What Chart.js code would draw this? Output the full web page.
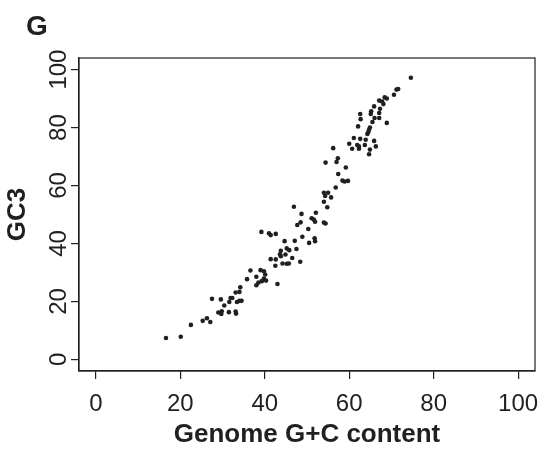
<!DOCTYPE html>
<html>
<head>
<meta charset="utf-8">
<script src="https://cdn.jsdelivr.net/npm/chart.js@4.4.0/dist/chart.umd.min.js"></script>
<style>
  body { margin: 0; background: #fff; }
  #wrap { width: 550px; height: 450px; }
</style>
</head>
<body>
<div id="wrap"><canvas id="gc3-chart" width="550" height="450"></canvas></div>
<script>
'use strict';

// genome G+C content (%) per genome
var gcContent = [
  16.6, 20.1, 22.5, 25.3, 26.3, 27.1, 27.5, 29.0, 29.7, 29.8, 29.6, 30.4,
  31.5, 31.6, 31.9, 32.3, 33.1, 33.2, 33.4, 34.0, 34.5, 33.1, 34.0, 34.2,
  35.8, 36.6, 38.0, 38.0, 38.5, 39.3, 39.8, 40.1, 39.8, 39.0, 40.3, 43.0,
  41.4, 42.6, 42.5, 44.2, 45.2, 45.7, 46.5, 48.4, 43.8, 44.9, 43.8, 43.6,
  45.2, 45.8, 47.5,
  39.2, 41.0, 41.4, 42.6, 44.7, 47.1, 48.9, 50.5, 51.8, 51.9, 47.7, 48.5,
  50.3, 51.1, 51.6, 51.9, 54.0, 54.4, 46.9, 48.7, 52.1, 54.0, 54.8,
  54.0, 55.0, 54.3, 55.7, 56.8, 58.4, 58.9, 59.7, 57.4, 59.2, 54.4, 57.0,
  57.3, 56.2,
  60.0, 60.7, 61.1, 61.9, 62.3, 62.3, 62.6, 63.7, 63.9, 64.9, 64.7, 65.9,
  66.3, 64.3, 64.5, 64.7, 64.9, 62.1, 65.5, 62.7, 66.0, 67.1, 68.9, 62.6,
  65.1, 65.2, 67.1, 67.3, 65.9, 68.1, 67.1, 67.8, 68.4, 68.9, 70.6, 71.2,
  71.6, 74.6
];
// GC content at third codon position (%)
var gc3 = [
  7.4, 7.8, 11.9, 13.3, 14.2, 12.9, 20.9, 16.2, 15.7, 16.6, 20.7, 18.6,
  16.3, 19.8, 21.2, 21.2, 16.5, 15.8, 19.8, 20.2, 20.2, 23.1, 23.3, 24.9,
  27.7, 30.7, 28.5, 25.6, 26.5, 27.0, 27.9, 29.3, 30.4, 30.8, 27.2, 26.0,
  34.6, 34.5, 32.3, 33.1, 33.0, 33.1, 35.0, 33.7, 35.6, 36.2, 37.5, 36.3,
  38.3, 37.7, 38.1,
  44.0, 43.5, 42.9, 43.3, 40.8, 40.9, 42.3, 40.2, 41.8, 40.8, 46.4, 47.3,
  45.0, 48.7, 48.3, 47.5, 47.2, 46.9, 52.7, 50.2, 50.6, 54.4, 52.5,
  57.5, 57.5, 56.4, 55.9, 59.3, 61.7, 61.4, 61.6, 64.0, 66.2, 67.9, 68.1,
  69.4, 72.9,
  74.4, 72.7, 76.4, 74.0, 73.5, 72.7, 76.1, 74.0, 75.8, 72.4, 70.8, 75.4,
  73.5, 77.8, 78.4, 79.2, 80.0, 80.4, 81.9, 82.9, 83.3, 83.3, 81.6, 84.7,
  84.7, 85.6, 85.0, 86.5, 87.3, 88.1, 89.3, 89.0, 90.4, 90.0, 91.3, 93.1,
  93.3, 97.2
];

var xTicks = [0, 20, 40, 60, 80, 100];
var yTicks = [0, 20, 40, 60, 80, 100];
var panelLabel = 'G';
var xTitle = 'Genome G+C content';
var yTitle = 'GC3';

var ink = '#231f20';
var fontFamily = '"Liberation Sans", Arial, sans-serif';

let GcChart = function(){

    var _points = function(){
        var pts = [];
        for (var i = 0; i < gcContent.length; i++) {
            pts.push({x: gcContent[i], y: gc3[i]});
        }
        return pts;
    };

    // full box round the plot + panel letter
    var framePlugin = {
        id: 'frame',
        afterDraw: function(chart){
            var ctx = chart.ctx, a = chart.chartArea;
            ctx.save();
            ctx.strokeStyle = ink;
            ctx.lineWidth = 1.2;
            ctx.strokeRect(a.left, a.top, a.right - a.left, a.bottom - a.top);
            ctx.fillStyle = ink;
            ctx.font = 'bold 28px ' + fontFamily;
            ctx.textAlign = 'left';
            ctx.textBaseline = 'alphabetic';
            ctx.fillText(panelLabel, 26, 35);
            ctx.restore();
        }
    };

    var _draw = function(){
        var ctx = document.getElementById('gc3-chart').getContext('2d');
        var config = {
            type: 'scatter',
            data: {
                datasets: [{
                    label: yTitle,
                    data: _points(),
                    backgroundColor: ink,
                    borderWidth: 0,
                    pointRadius: 2.3,
                    pointHoverRadius: 2.3
                }]
            },
            options: {
                responsive: false,
                animation: false,
                events: [],
                layout: { padding: { top: 58, right: 15, bottom: 0, left: 0 } },
                plugins: {
                    legend: { display: false },
                    tooltip: { enabled: false }
                },
                scales: {
                    x: {
                        type: 'linear',
                        min: -4,
                        max: 104,
                        afterBuildTicks: function(s){ s.ticks = xTicks.map(function(v){ return {value: v}; }); },
                        afterFit: function(s){ s.height = 79; },
                        grid: { drawOnChartArea: false, drawTicks: true, tickLength: 8, color: ink, lineWidth: 1.2 },
                        border: { display: true, color: ink, width: 1.2 },
                        ticks: { color: ink, padding: 11, maxRotation: 0, font: { family: fontFamily, size: 24 } },
                        title: { display: true, text: xTitle, color: ink, padding: { top: 0, bottom: 0 },
                                 font: { family: fontFamily, size: 26, weight: 'bold' } }
                    },
                    y: {
                        type: 'linear',
                        min: -4,
                        max: 104,
                        afterBuildTicks: function(s){ s.ticks = yTicks.map(function(v){ return {value: v}; }); },
                        afterFit: function(s){ s.width = 79; },
                        grid: { drawOnChartArea: false, drawTicks: true, tickLength: 8, color: ink, lineWidth: 1.2 },
                        border: { display: true, color: ink, width: 1.2 },
                        ticks: { color: ink, padding: -8, minRotation: 90, maxRotation: 90, crossAlign: 'center',
                                 font: { family: fontFamily, size: 24 } },
                        title: { display: true, text: yTitle, color: ink, padding: { top: 2, bottom: 0 },
                                 font: { family: fontFamily, size: 26, weight: 'bold' } }
                    }
                }
            },
            plugins: [framePlugin]
        };
        window.gc3_chart = new Chart(ctx, config);
    };

    return {
        init: function(){
            _draw();
        }
    };

}();

document.addEventListener('DOMContentLoaded', function(){
    GcChart.init();
});
</script>
</body>
</html>
